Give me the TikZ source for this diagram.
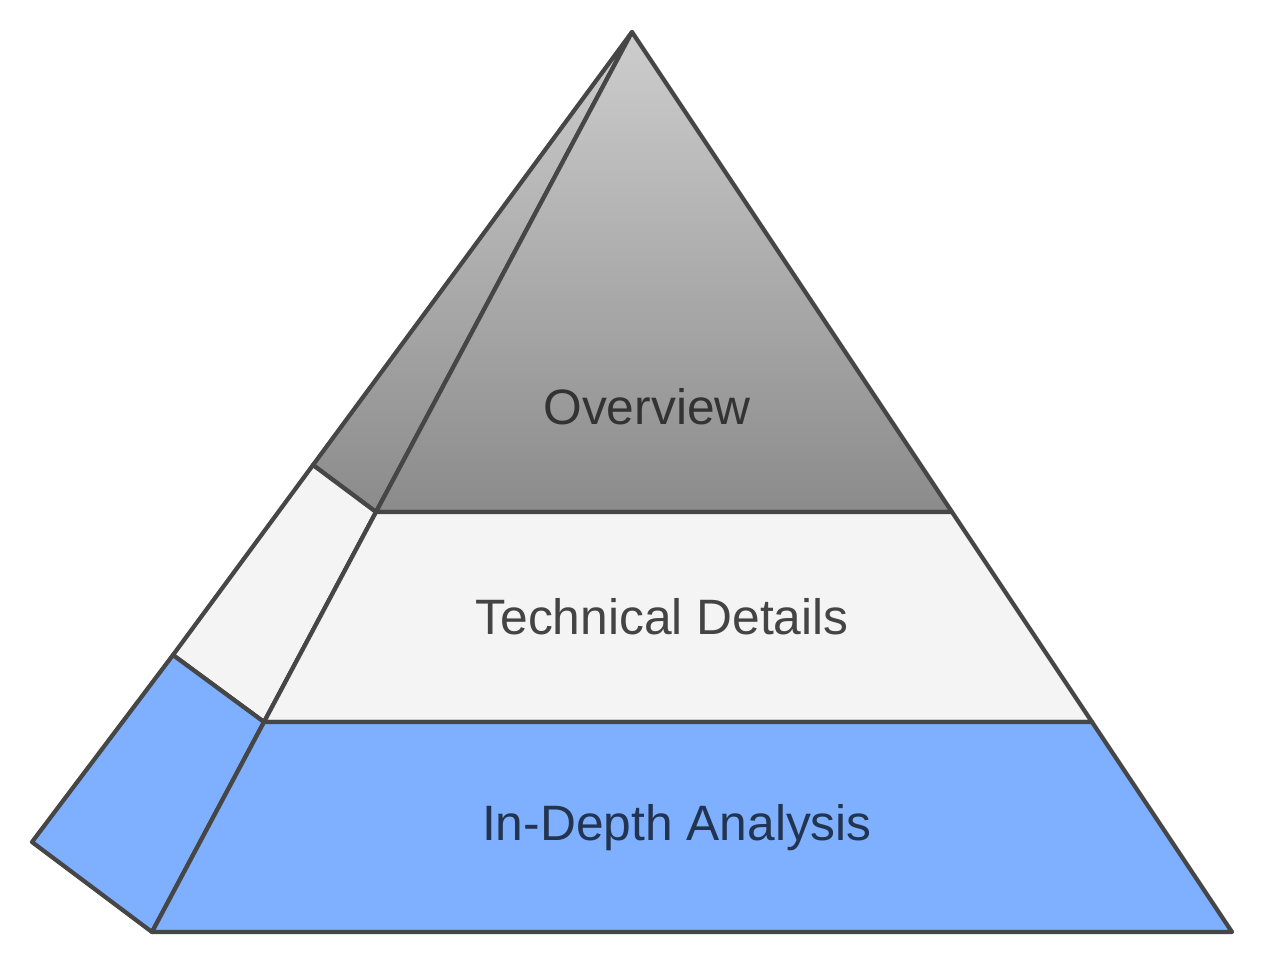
\documentclass[tikz,border=0pt]{standalone}
\usepackage{fontspec}
\setmainfont{Liberation Sans}
\definecolor{edgegray}{HTML}{464646}
\definecolor{midfill}{HTML}{F4F4F4}
\definecolor{basefill}{HTML}{7EB0FF}
\definecolor{topgrayA}{HTML}{CDCDCD}
\definecolor{topgrayM}{HTML}{C0C0C0}
\definecolor{topgrayB}{HTML}{8B8B8B}
\definecolor{labeldark}{HTML}{333333}
\definecolor{labelmid}{HTML}{444444}
\definecolor{labelnavy}{HTML}{22344F}
\tikzset{
  face/.style={draw=edgegray,line width=2.4pt,line join=round},
  topface/.style={face,top color=topgrayA,middle color=topgrayM,bottom color=topgrayB},
  layerlabel/.style={font=\fontsize{28.3}{33}\selectfont,inner sep=0pt}
}
\begin{document}
\begin{tikzpicture}[x=0.02cm,y=-0.02cm]
  \useasboundingbox (0,0) rectangle (1265,965);
  % corners of the pyramid
  \coordinate (apex) at (632,32);
  \coordinate (f1) at (376,512);
  \coordinate (r1) at (952,512);
  \coordinate (f2) at (264,722);
  \coordinate (r2) at (1092,722);
  \coordinate (f3) at (152,932);
  \coordinate (r3) at (1232,932);
  \coordinate (b1) at (313,465);
  \coordinate (b2) at (173,655);
  \coordinate (b3) at (32,842);
  % side faces
  \draw[topface] (apex) -- (b1) -- (f1) -- cycle;
  \draw[face,fill=midfill] (b1) -- (b2) -- (f2) -- (f1) -- cycle;
  \draw[face,fill=basefill] (b2) -- (b3) -- (f3) -- (f2) -- cycle;
  % front faces
  \draw[topface] (apex) -- (f1) -- (r1) -- cycle;
  \draw[face,fill=midfill] (f1) -- (r1) -- (r2) -- (f2) -- cycle;
  \draw[face,fill=basefill] (f2) -- (r2) -- (r3) -- (f3) -- cycle;
  % labels
  \node[layerlabel,text=labeldark] (overview) at (647,407) {Overview};
  \node[layerlabel,text=labelmid] (technical) at (662,617) {Technical Details};
  \node[layerlabel,text=labelnavy] (indepth) at (677,828) {In-Depth Analysis};
\end{tikzpicture}
\end{document}
